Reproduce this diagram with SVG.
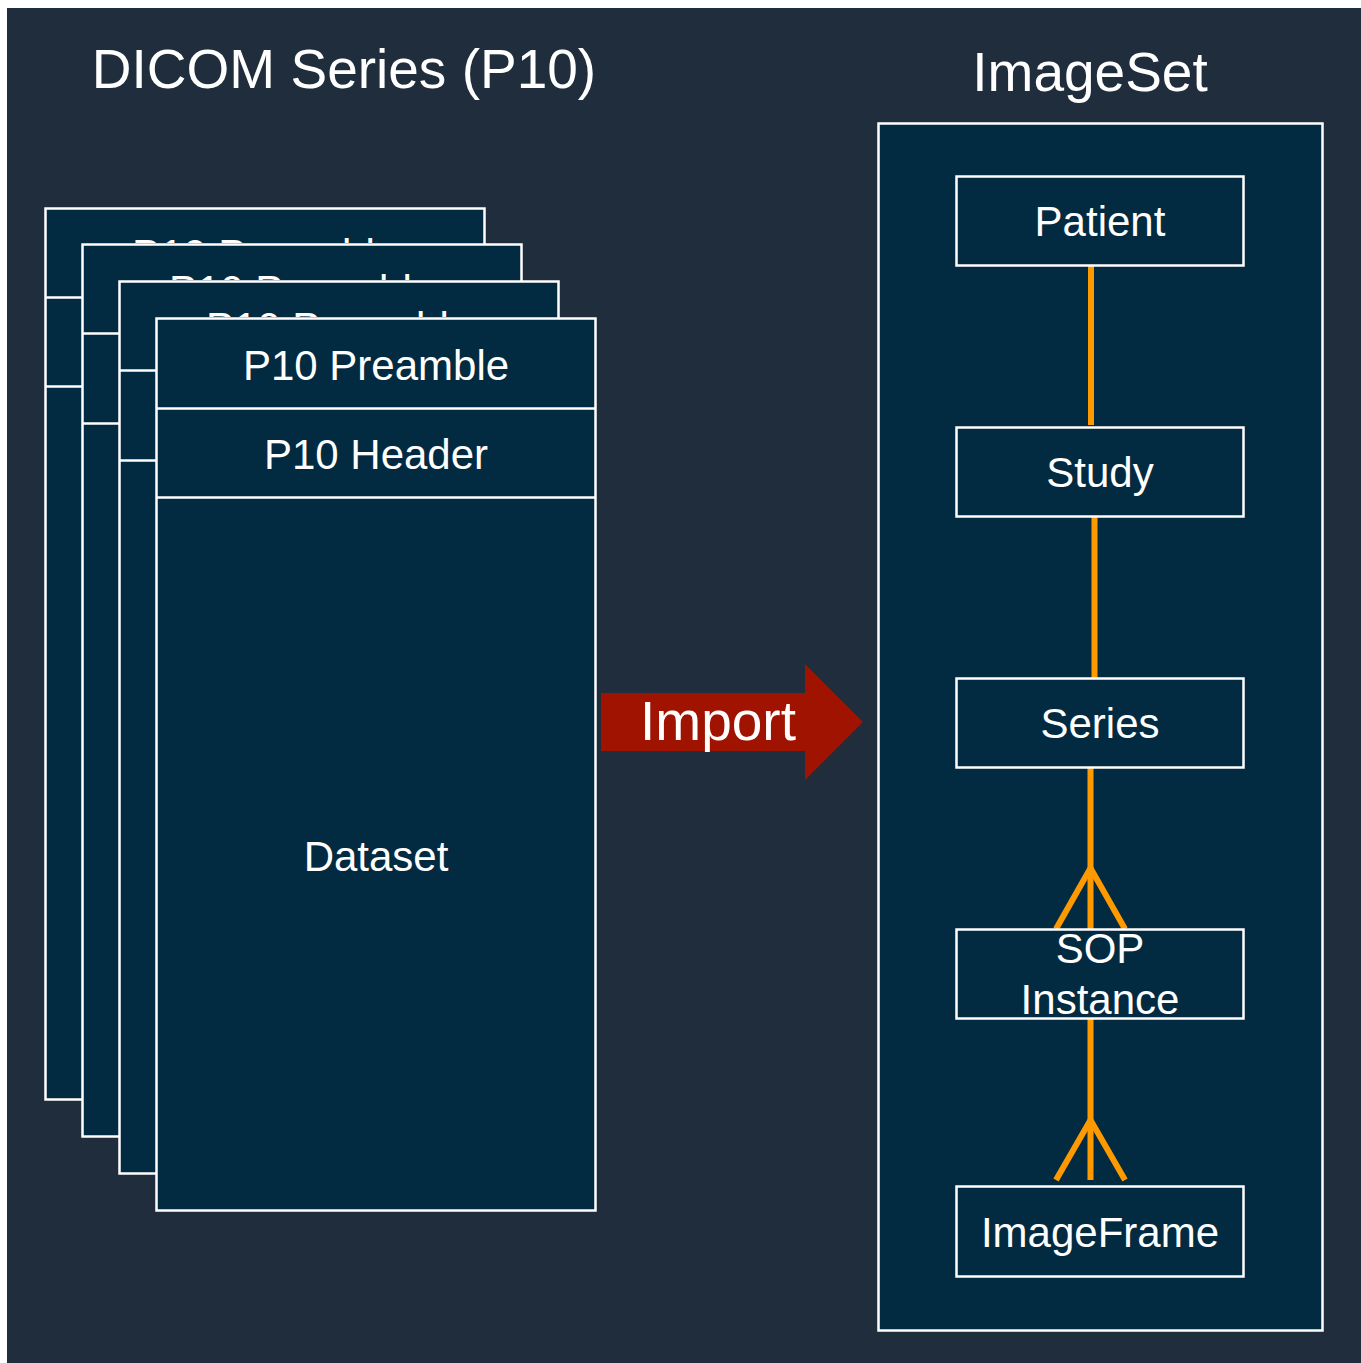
<svg xmlns="http://www.w3.org/2000/svg" width="1361" height="1363" viewBox="0 0 1361 1363">
<style>
text{font-family:"Liberation Sans",Arial,sans-serif;fill:#ffffff;text-anchor:middle}
.box{fill:#022b41;stroke:#ffffff;stroke-width:2.5}
.div{stroke:#ffffff;stroke-width:2.5;fill:none}
.lbl{font-size:42px}
.title{font-size:55px}
.conn{stroke:#ff9900;stroke-width:6;fill:none}
</style>
<defs>
<clipPath id="c1"><rect x="45" y="208" width="440" height="35"/></clipPath>
<clipPath id="c2"><rect x="82" y="244" width="440" height="36"/></clipPath>
<clipPath id="c3"><rect x="119" y="281" width="440" height="36"/></clipPath>
</defs>
<rect x="0" y="0" width="1361" height="1363" fill="#ffffff"/>
<rect x="7" y="8" width="1354" height="1355" fill="#1f2d3c"/>
<g id="title-dicom"><text class="title" x="344" y="88">DICOM Series (P10)</text></g>
<g id="title-imageset"><text class="title" x="1090" y="91">ImageSet</text></g>
<g id="card1">
<rect class="box" x="45.5" y="208.5" width="439" height="891"/>
<line class="div" x1="45.5" y1="297.5" x2="484.5" y2="297.5"/>
<line class="div" x1="45.5" y1="386.5" x2="484.5" y2="386.5"/>
<text class="lbl" x="265" y="269" clip-path="url(#c1)">P10 Preamble</text>
</g>
<g id="card2">
<rect class="box" x="82.5" y="244.5" width="439" height="892"/>
<line class="div" x1="82.5" y1="333.5" x2="521.5" y2="333.5"/>
<line class="div" x1="82.5" y1="423.5" x2="521.5" y2="423.5"/>
<text class="lbl" x="302" y="305" clip-path="url(#c2)">P10 Preamble</text>
</g>
<g id="card3">
<rect class="box" x="119.5" y="281.5" width="439" height="892"/>
<line class="div" x1="119.5" y1="370.5" x2="558.5" y2="370.5"/>
<line class="div" x1="119.5" y1="460.5" x2="558.5" y2="460.5"/>
<text class="lbl" x="339" y="342" clip-path="url(#c3)">P10 Preamble</text>
</g>
<g id="card4">
<rect class="box" x="156.5" y="318.5" width="439" height="892"/>
<line class="div" x1="156.5" y1="408.5" x2="595.5" y2="408.5"/>
<line class="div" x1="156.5" y1="497.5" x2="595.5" y2="497.5"/>
<text class="lbl" x="376" y="380">P10 Preamble</text>
<text class="lbl" x="376" y="469">P10 Header</text>
<text class="lbl" x="376" y="871">Dataset</text>
</g>
<g id="import-arrow">
<polygon points="601,693 805,693 805,664 863,722 805,780 805,751 601,751" fill="#a01300"/>
<text x="718" y="740" style="font-size:55px">Import</text>
</g>
<g id="imageset-box"><rect class="box" x="878.5" y="123.5" width="444" height="1207"/></g>
<g id="connectors">
<line class="conn" x1="1091" y1="265" x2="1091" y2="425"/>
<line class="conn" x1="1094.5" y1="516" x2="1094.5" y2="678"/>
<line class="conn" x1="1090.5" y1="767" x2="1090.5" y2="929"/>
<polyline class="conn" points="1056,929 1090.5,868 1125,929"/>
<line class="conn" x1="1090.5" y1="1018" x2="1090.5" y2="1180"/>
<polyline class="conn" points="1056,1180 1090.5,1120 1125,1180"/>
</g>
<g id="patient"><rect class="box" x="956.5" y="176.5" width="287" height="89"/><text class="lbl" x="1100" y="236">Patient</text></g>
<g id="study"><rect class="box" x="956.5" y="427.5" width="287" height="89"/><text class="lbl" x="1100" y="487">Study</text></g>
<g id="series"><rect class="box" x="956.5" y="678.5" width="287" height="89"/><text class="lbl" x="1100" y="738">Series</text></g>
<g id="sop-instance"><rect class="box" x="956.5" y="929.5" width="287" height="89" fill-opacity="0"/><text class="lbl" x="1100" y="963">SOP</text><text class="lbl" x="1100" y="1014">Instance</text></g>
<g id="imageframe"><rect class="box" x="956.5" y="1186.5" width="287" height="90"/><text class="lbl" x="1100" y="1247">ImageFrame</text></g>
</svg>
